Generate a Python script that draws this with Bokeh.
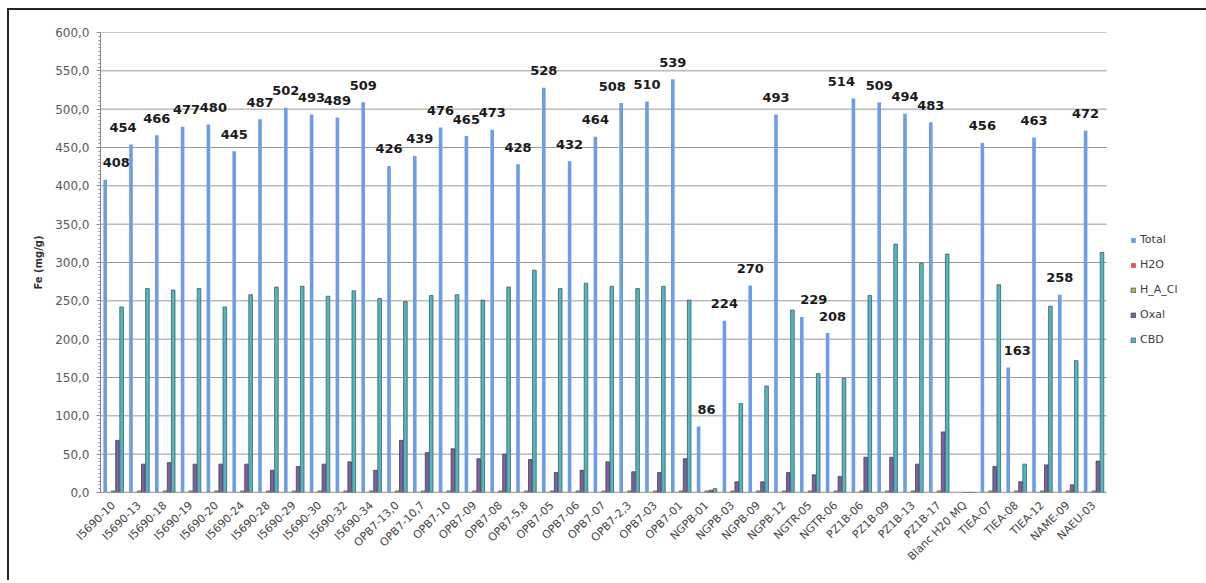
from bokeh.plotting import figure
from bokeh.models import (Range1d, SingleIntervalTicker, FixedTicker, ColumnDataSource,
                          LabelSet, Legend, LegendItem)
from bokeh.core.properties import value
from bokeh.transform import dodge
from bokeh.embed import file_html
from bokeh.resources import INLINE

categories = ["I5690-10", "I5690-13", "I5690-18", "I5690-19", "I5690-20", "I5690-24",
              "I5690-28", "I5690-29", "I5690-30", "I5690-32", "I5690-34",
              "OPB7-13,0", "OPB7-10,7", "OPB7-10", "OPB7-09", "OPB7-08", "OPB7-5,8",
              "OPB7-05", "OPB7-06", "OPB7-07", "OPB7-2,3", "OPB7-03", "OPB7-01",
              "NGPB-01", "NGPB-03", "NGPB-09", "NGPB-12", "NGTR-05", "NGTR-06",
              "PZ1B-06", "PZ1B-09", "PZ1B-13", "PZ1B-17", "Blanc H20 MQ",
              "TIEA-07", "TIEA-08", "TIEA-12", "NAME-09", "NAEU-03"]

total = [408, 454, 466, 477, 480, 445, 487, 502, 493, 489, 509,
         426, 439, 476, 465, 473, 428, 528, 432, 464, 508, 510, 539,
         86, 224, 270, 493, 229, 208,
         514, 509, 494, 483, 0,
         456, 163, 463, 258, 472]

h2o = [0.5, 0.5, 0.5, 0.5, 0.5, 0.5, 0.5, 0.5, 0.5, 0.5, 0.5,
       0.5, 0.5, 0.5, 0.5, 0.5, 0.5, 0.5, 0.5, 0.5, 0.5, 0.5, 0.5,
       0.5, 0.5, 0.5, 0.5, 0.5, 0.5,
       0.5, 0.5, 0.5, 0.5, 0,
       0.5, 0.5, 0.5, 0.5, 0.5]

h_a_cl = [2, 2, 2, 2, 2, 2, 2, 2, 2, 2, 2,
          2, 2, 2, 2, 2, 2, 2, 2, 2, 2, 2, 2,
          2, 2, 2, 2, 2, 2,
          2, 2, 2, 2, 0,
          2, 2, 2, 2, 2]

oxal = [68, 37, 39, 37, 37, 37, 29, 34, 37, 40, 29,
        68, 52, 57, 44, 50, 43, 26, 29, 40, 27, 26, 44,
        3, 14, 14, 26, 23, 21,
        46, 46, 37, 79, 0,
        34, 14, 36, 10, 41]

cbd = [242, 266, 264, 266, 242, 258, 268, 269, 256, 263, 253,
       249, 257, 258, 251, 268, 290, 266, 273, 269, 266, 269, 251,
       5, 116, 139, 238, 155, 149,
       257, 324, 299, 311, 0,
       271, 37, 243, 172, 313]

series_names = ["Total", "H2O", "H_A_Cl", "Oxal", "CBD"]
y_ticks = [0, 50, 100, 150, 200, 250, 300, 350, 400, 450, 500, 550, 600]

# horizontal nudges (px) of some data labels, as placed in the original chart
label_nudge = {"I5690-10": 11, "I5690-13": -8, "I5690-19": 4, "I5690-20": 5,
               "OPB7-10,7": 5, "OPB7-2,3": -9, "NGPB-01": 8, "NGTR-05": 12,
               "NGTR-06": 5, "PZ1B-06": -12, "TIEA-08": 9}

n = len(categories)
idx = list(range(n))
src = ColumnDataSource(dict(idx=idx, total=total, h2o=h2o, hacl=h_a_cl,
                            oxal=oxal, cbd=cbd))

lab_idx = [i for i, t in zip(idx, total) if t > 0]
lab_vals = [t for t in total if t > 0]
lab_src = ColumnDataSource(dict(idx=lab_idx, total=lab_vals,
                                txt=[str(v) for v in lab_vals],
                                dx=[label_nudge.get(categories[i], 0) for i in lab_idx]))

# the plot area extends right of the last category to hold the legend (like Excel)
cat_px = 25.8
frame_w = 1098
p = figure(x_range=Range1d(-0.5, -0.5 + frame_w / cat_px), y_range=Range1d(0, 600),
           frame_width=frame_w, frame_height=460, output_backend="svg",
           toolbar_location=None,
           min_border_left=91, min_border_right=8, min_border_top=22, min_border_bottom=88)
p.styles = {"margin-left": "7px", "margin-top": "8px",
            "border-top": "2px solid #222222", "border-left": "2px solid #222222"}
p.outline_line_color = None
p.background_fill_color = "white"
p.border_fill_color = "white"

# horizontal gridlines limited to the category area
p.segment(x0=-0.5, x1=n - 0.5, y0=y_ticks, y1=y_ticks, line_color="#9a9a9a", line_width=1)

step = 0.159
bw = 0.14
r_total = p.vbar(x=dodge("idx", -2 * step), top="total", width=bw,
                 source=src, fill_color="#6d9de6", line_color=None)
r_h2o = p.vbar(x=dodge("idx", -step), top="h2o", width=bw,
               source=src, fill_color="#e05563", line_color=None)
r_hacl = p.vbar(x=dodge("idx", 0), top="hacl", width=bw,
                source=src, fill_color="#9bbb59", line_color="#555555", line_width=0.8)
r_oxal = p.vbar(x=dodge("idx", step), top="oxal", width=bw,
                source=src, fill_color="#7e5ea6", line_color="#444444", line_width=0.8)
r_cbd = p.vbar(x=dodge("idx", 2 * step), top="cbd", width=bw,
               source=src, fill_color="#45bcc8", line_color="#555555", line_width=0.8)

# category axis baseline
p.segment(x0=-0.5, x1=n - 0.5, y0=0, y1=0, line_color="#888888", line_width=1.5)

labels = LabelSet(x=dodge("idx", -2 * step), y="total", text="txt",
                  source=lab_src, x_offset="dx", text_align="center",
                  text_baseline="middle", y_offset=17, text_font=value("DejaVu Sans"),
                  text_font_style="bold", text_font_size="13px", text_color="#1a1a1a")
p.add_layout(labels)

# y axis
p.yaxis.ticker = SingleIntervalTicker(interval=50, num_minor_ticks=10)
p.yaxis.major_label_overrides = {v: f"{v:.1f}".replace(".", ",") for v in y_ticks}
p.yaxis.major_label_text_font = "DejaVu Sans"
p.yaxis.major_label_text_font_size = "12px"
p.yaxis.major_label_text_color = "#595959"
p.yaxis.axis_line_color = "#888888"
p.yaxis.major_tick_line_color = "#888888"
p.yaxis.minor_tick_line_color = "#888888"
p.yaxis.major_tick_out = 4
p.yaxis.major_tick_in = 0
p.yaxis.minor_tick_out = 2
p.yaxis.minor_tick_in = 0
p.yaxis.major_label_standoff = 7
p.yaxis.axis_label = "Fe (mg/g)"
p.yaxis.axis_label_text_font = "DejaVu Sans"
p.yaxis.axis_label_text_font_style = "bold"
p.yaxis.axis_label_text_font_size = "10px"
p.yaxis.axis_label_text_color = "#333333"
p.yaxis.axis_label_standoff = 8

# x axis
p.xaxis.ticker = FixedTicker(ticks=idx)
p.xaxis.major_label_overrides = {i: c for i, c in zip(idx, categories)}
p.xaxis.major_label_orientation = 0.785398
p.xaxis.major_label_text_font = "DejaVu Sans"
p.xaxis.major_label_text_font_size = "11px"
p.xaxis.major_label_text_color = "#444444"
p.xaxis.axis_line_color = None
p.xaxis.major_tick_line_color = None
p.xaxis.minor_tick_line_color = None

p.xgrid.grid_line_color = None
p.ygrid.grid_line_color = None

legend = Legend(items=[LegendItem(label=nm, renderers=[r]) for nm, r in
                       zip(series_names, [r_total, r_h2o, r_hacl, r_oxal, r_cbd])],
                location=(1030, 146), orientation="vertical",
                glyph_width=6, glyph_height=6, label_height=12, spacing=12,
                padding=0, margin=0, border_line_color=None, background_fill_alpha=0,
                label_text_font="DejaVu Sans", label_text_font_size="11px",
                label_text_color="#404040", label_standoff=4)
p.add_layout(legend)

open("out.html", "w").write(file_html(p, INLINE))
